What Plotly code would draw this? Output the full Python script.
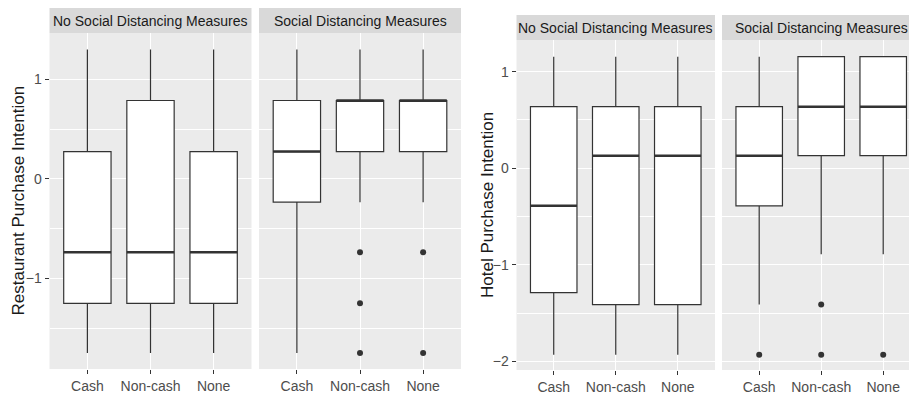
import plotly.graph_objects as go

# ---- data -------------------------------------------------------------
categories = ["Cash", "Non-cash", "None"]
facets = ["No Social Distancing Measures", "Social Distancing Measures"]

# Restaurant purchase intention – no social distancing
rest_nosd_low = [-1.75, -1.75, -1.75]
rest_nosd_q1 = [-1.25, -1.25, -1.25]
rest_nosd_med = [-0.737, -0.737, -0.737]
rest_nosd_q3 = [0.274, 0.787, 0.274]
rest_nosd_high = [1.30, 1.30, 1.30]
rest_nosd_out = [[], [], []]

# Restaurant purchase intention – social distancing
rest_sd_low = [-1.75, -0.234, -0.234]
rest_sd_q1 = [-0.234, 0.274, 0.274]
rest_sd_med = [0.274, 0.787, 0.787]
rest_sd_q3 = [0.787, 0.787, 0.787]
rest_sd_high = [1.30, 1.30, 1.30]
rest_sd_out = [[], [-0.737, -1.25, -1.75], [-0.737, -1.75]]

# Hotel purchase intention – no social distancing
hotel_nosd_low = [-1.93, -1.93, -1.93]
hotel_nosd_q1 = [-1.287, -1.41, -1.41]
hotel_nosd_med = [-0.387, 0.13, 0.13]
hotel_nosd_q3 = [0.637, 0.637, 0.637]
hotel_nosd_high = [1.155, 1.155, 1.155]
hotel_nosd_out = [[], [], []]

# Hotel purchase intention – social distancing
hotel_sd_low = [-1.41, -0.89, -0.89]
hotel_sd_q1 = [-0.39, 0.13, 0.13]
hotel_sd_med = [0.13, 0.637, 0.637]
hotel_sd_q3 = [0.637, 1.155, 1.155]
hotel_sd_high = [1.155, 1.155, 1.155]
hotel_sd_out = [[-1.93], [-1.41, -1.93], [-1.93]]

y_titles = ["Restaurant Purchase Intention", "Hotel Purchase Intention"]

# ---- styling / layout helpers ----------------------------------------
W, H = 909, 395
FONT = "Liberation Sans, Arial, sans-serif"
PANEL_BG = "#EBEBEB"
STRIP_BG = "#D9D9D9"
INK = "#333333"
BOX_W = 0.75


def px(x):
    return x / W


def py(y):
    return 1 - y / H


# panel pixel boxes: (left, right, top, bottom, x-range right end, strip top)
panels = [
    dict(l=49.5, r=251.5, t=33, b=369, xr=2.6, st=8),
    dict(l=259, r=461, t=33, b=369, xr=2.6, st=8),
    dict(l=516.5, r=715, t=40, b=370, xr=2.6, st=15),
    dict(l=722, r=909, t=40, b=370, xr=2.416, st=15),
]

series = [
    (rest_nosd_low, rest_nosd_q1, rest_nosd_med, rest_nosd_q3, rest_nosd_high, rest_nosd_out),
    (rest_sd_low, rest_sd_q1, rest_sd_med, rest_sd_q3, rest_sd_high, rest_sd_out),
    (hotel_nosd_low, hotel_nosd_q1, hotel_nosd_med, hotel_nosd_q3, hotel_nosd_high, hotel_nosd_out),
    (hotel_sd_low, hotel_sd_q1, hotel_sd_med, hotel_sd_q3, hotel_sd_high, hotel_sd_out),
]

y_ranges = [[-1.91, 1.465], [-1.91, 1.465], [-2.087, 1.327], [-2.087, 1.327]]
y_ticks = [[-1, 0, 1], [-1, 0, 1], [-2, -1, 0, 1], [-2, -1, 0, 1]]

fig = go.Figure()
shapes = []
annotations = []
positions = list(range(len(categories)))

for k, (p, s) in enumerate(zip(panels, series)):
    sfx = "" if k == 0 else str(k + 1)
    xa, ya = "x" + sfx, "y" + sfx
    low, q1, med, q3, high, outs = s
    for i, cat in enumerate(categories):
        fig.add_trace(go.Box(
            x=[positions[i]], q1=[q1[i]], median=[med[i]], q3=[q3[i]],
            lowerfence=[low[i]], upperfence=[high[i]],
            width=BOX_W, whiskerwidth=0, boxpoints=False,
            fillcolor="white", line=dict(color=INK, width=1.2),
            xaxis=xa, yaxis=ya, showlegend=False, name=cat,
        ))
        # thicker median bar, as in ggplot
        shapes.append(dict(
            type="line", xref=xa, yref=ya,
            x0=positions[i] - BOX_W / 2, x1=positions[i] + BOX_W / 2,
            y0=med[i], y1=med[i], line=dict(color=INK, width=2.4), layer="above",
        ))
        if outs[i]:
            fig.add_trace(go.Scatter(
                x=[positions[i]] * len(outs[i]), y=outs[i], mode="markers",
                marker=dict(color=INK, size=6), xaxis=xa, yaxis=ya,
                showlegend=False, hoverinfo="y",
            ))

    show_y = k in (0, 2)
    fig.layout["xaxis" + sfx] = dict(
        domain=[px(p["l"]), px(p["r"])], anchor=ya, range=[-0.6, p["xr"]],
        tickvals=positions, ticktext=categories,
        showgrid=True, gridcolor="white", gridwidth=1.4, zeroline=False,
        ticks="outside", ticklen=4, tickcolor=INK, tickwidth=1,
        tickfont=dict(family=FONT, size=14, color="#4D4D4D"),
        showline=False, fixedrange=True,
    )
    fig.layout["yaxis" + sfx] = dict(
        domain=[py(p["b"]), py(p["t"])], anchor=xa, range=y_ranges[k],
        tickvals=y_ticks[k], showticklabels=show_y,
        ticks="outside" if show_y else "", ticklen=4, tickcolor=INK, tickwidth=1,
        tickfont=dict(family=FONT, size=14, color="#4D4D4D"),
        showgrid=True, gridcolor="white", gridwidth=1.4, zeroline=False,
        minor=dict(dtick=0.5, tick0=0, showgrid=True, gridcolor="white", gridwidth=0.7),
        showline=False, fixedrange=True,
    )

    # facet strip
    shapes.append(dict(
        type="rect", xref="paper", yref="paper",
        x0=px(p["l"]), x1=px(p["r"]), y0=py(p["t"]), y1=py(p["st"]),
        fillcolor=STRIP_BG, line=dict(width=0), layer="below",
    ))
    full_right = p["l"] + (p["r"] - p["l"]) * 3.2 / (p["xr"] + 0.6)
    annotations.append(dict(
        text=facets[k % 2], xref="paper", yref="paper",
        x=px((p["l"] + full_right) / 2), y=py((p["t"] + p["st"]) / 2),
        showarrow=False, xanchor="center", yanchor="middle",
        font=dict(family=FONT, size=14, color="#1A1A1A"),
    ))

# y-axis titles
for title, xc, p in [(y_titles[0], 17.5, panels[0]), (y_titles[1], 487, panels[2])]:
    annotations.append(dict(
        text=title, xref="paper", yref="paper", textangle=-90,
        x=px(xc), y=py((p["t"] + p["b"]) / 2), showarrow=False,
        xanchor="center", yanchor="middle",
        font=dict(family=FONT, size=17, color="#1A1A1A"),
    ))

fig.update_layout(
    width=W, height=H, margin=dict(l=0, r=0, t=0, b=0),
    paper_bgcolor="white", plot_bgcolor=PANEL_BG,
    shapes=shapes, annotations=annotations, showlegend=False,
)

fig.write_html("out.html")
